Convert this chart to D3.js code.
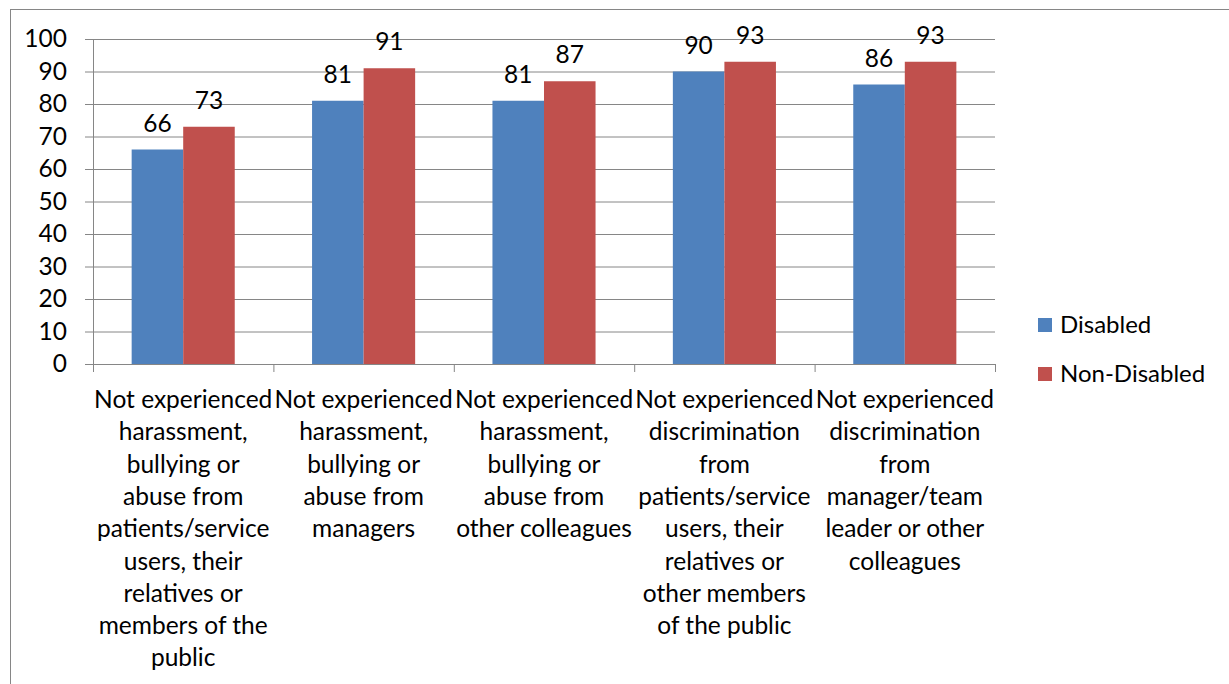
<!DOCTYPE html>
<html>
<head>
<meta charset="utf-8">
<script src="https://cdn.jsdelivr.net/npm/d3@7"></script>
<style>
  body { margin: 0; background: #fff; }
  svg { display: block; font-family: Lato, "Open Sans", sans-serif; }
</style>
</head>
<body>
<svg id="chart" width="1229" height="684"></svg>
<script>
// categories (line breaks as shown in the chart)
let categories = [
  ['Not experienced', 'harassment,', 'bullying or', 'abuse from', 'patients/service', 'users, their', 'relatives or', 'members of the', 'public'],
  ['Not experienced', 'harassment,', 'bullying or', 'abuse from', 'managers'],
  ['Not experienced', 'harassment,', 'bullying or', 'abuse from', 'other colleagues'],
  ['Not experienced', 'discrimination', 'from', 'patients/service', 'users, their', 'relatives or', 'other members', 'of the public'],
  ['Not experienced', 'discrimination', 'from', 'manager/team', 'leader or other', 'colleagues']
];
let seriesNames = ['Disabled', 'Non-Disabled'];
let disabled = [66, 81, 81, 90, 86];
let nonDisabled = [73, 91, 87, 93, 93];
let yTicks = [0, 10, 20, 30, 40, 50, 60, 70, 80, 90, 100];
let colors = ['#4F81BD', '#C0504D'];

let svg = d3.select('#chart');

let margin = { left: 93, right: 234, top: 39, bottom: 320 };
let width = 1229, height = 684;
let fontSize = 24.5;

// outer chart border (right and bottom lie outside the picture)
svg.append('rect')
  .attr('x', 10.5).attr('y', 9.5)
  .attr('width', 1240).attr('height', 700)
  .attr('fill', 'none')
  .attr('stroke', '#868686');

let catIdx = categories.map((c, i) => i);

let x = d3.scaleBand()
  .domain(catIdx)
  .range([margin.left, width - margin.right])
  .padding(0);

let xInner = d3.scaleBand()
  .domain(seriesNames)
  .range([0, x.bandwidth()])
  .paddingInner(0)
  .paddingOuter(0.75);

let y = d3.scaleLinear()
  .domain([0, 100])
  .range([height - margin.bottom, margin.top]);

// gridlines + y axis
let yAxis = d3.axisLeft(y)
  .tickValues(yTicks)
  .tickSize(0)
  .tickFormat(d3.format('d'));

let gy = svg.append('g')
  .attr('transform', `translate(${margin.left - 8},0)`)
  .call(yAxis);
gy.select('.domain').remove();
gy.selectAll('.tick line')
  .attr('x1', 0)
  .attr('x2', width - margin.right - margin.left + 8)
  .attr('stroke', '#868686');
gy.selectAll('.tick text')
  .attr('x', -18)
  .attr('font-size', fontSize)
  .attr('font-family', 'Lato, sans-serif')
  .attr('fill', '#000');

svg.append('line')
  .attr('x1', margin.left + 0.5).attr('x2', margin.left + 0.5)
  .attr('y1', y(100)).attr('y2', y(0))
  .attr('stroke', '#868686');

// bars
let seriesData = [disabled, nonDisabled];
let rows = [];
seriesData.forEach((vals, s) => {
  vals.forEach((v, i) => rows.push({ cat: i, series: seriesNames[s], s: s, value: v }));
});

let bars = svg.append('g');
bars.selectAll('rect').data(rows).enter().append('rect')
  .attr('x', d => x(d.cat) + xInner(d.series))
  .attr('y', d => y(d.value))
  .attr('width', xInner.bandwidth())
  .attr('height', d => y(0) - y(d.value))
  .attr('fill', d => colors[d.s]);

// value labels
bars.selectAll('text').data(rows).enter().append('text')
  .attr('x', d => x(d.cat) + xInner(d.series) + xInner.bandwidth() / 2)
  .attr('y', d => y(d.value) - 18)
  .attr('text-anchor', 'middle')
  .attr('font-size', fontSize)
  .attr('fill', '#000')
  .text(d => d.value);

// x axis
let xAxis = d3.axisBottom(x)
  .tickSize(0)
  .tickFormat('');
let gx = svg.append('g')
  .attr('transform', `translate(0,${y(0)})`)
  .call(xAxis);
gx.select('.domain').remove();
gx.append('line')
  .attr('x1', margin.left).attr('x2', width - margin.right)
  .attr('y1', 0.5).attr('y2', 0.5)
  .attr('stroke', '#868686');
gx.selectAll('.boundary')
  .data(d3.range(categories.length + 1))
  .enter().append('line')
  .attr('x1', i => i < categories.length ? x(i) + 0.5 : width - margin.right + 0.5)
  .attr('x2', i => i < categories.length ? x(i) + 0.5 : width - margin.right + 0.5)
  .attr('y1', 0).attr('y2', 8)
  .attr('stroke', '#868686');

// category labels
let lineH = 32.3;
let labels = svg.append('g')
  .attr('font-size', fontSize)
  .attr('text-anchor', 'middle')
  .attr('fill', '#000');
labels.selectAll('text').data(categories).enter().append('text')
  .attr('transform', (d, i) => `translate(${x(i) + x.bandwidth() / 2},${408})`)
  .selectAll('tspan').data(d => d).enter().append('tspan')
  .attr('x', 0)
  .attr('y', (d, j) => j * lineH)
  .text(d => d);

// legend
let legend = svg.append('g')
  .attr('transform', 'translate(1038,318)');
let li = legend.selectAll('g').data(seriesNames).enter().append('g')
  .attr('transform', (d, i) => `translate(0,${i * 49})`);
li.append('rect')
  .attr('width', 14).attr('height', 14)
  .attr('fill', (d, i) => colors[i]);
li.append('text')
  .attr('x', 22).attr('y', 7)
  .attr('dy', '0.35em')
  .attr('font-size', 24)
  .attr('fill', '#000')
  .text(d => d);
</script>
</body>
</html>
